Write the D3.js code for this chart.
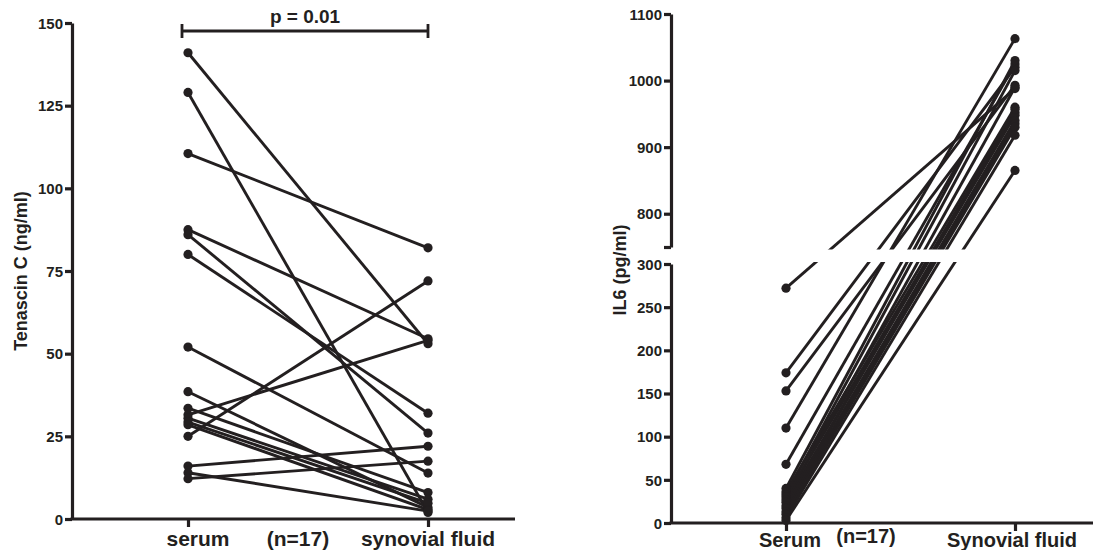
<!DOCTYPE html>
<html>
<head>
<meta charset="utf-8">
<script src="https://cdn.jsdelivr.net/npm/d3@7"></script>
<style>
  body { margin: 0; background: #fff; }
  svg text { font-family: "Liberation Sans", Arial, sans-serif; font-weight: bold; fill: #231f20; }
</style>
</head>
<body>
<svg id="chart" width="1093" height="550"></svg>
<script>
// tenascin C, paired serum / synovial fluid (n=17)
var tnGroups = ["serum", "synovial fluid"]
var tnSerum    = [141, 129, 110.5, 87.5, 86, 80, 52, 38.5, 33.5, 31.5, 30.5, 29.3, 28.5, 25, 16, 14, 12.2]
var tnSynovial = [53, 2, 82, 54.5, 26, 32, 13.9, 3.5, 8, 54, 6, 4.8, 2.8, 72, 22, 2.4, 17.5]
var tnTicks = [0, 25, 50, 75, 100, 125, 150]

// IL6, paired serum / synovial fluid (n=17)
var ilGroups = ["Serum", "Synovial fluid"]
var ilSerum    = [272, 174, 153, 110, 68, 40, 36, 33, 30, 27, 24, 20, 17, 13, 10, 6, 3]
var ilSynovial = [988, 1020, 993, 1063, 1025, 1030, 960, 1015, 952, 990, 948, 957, 940, 935, 930, 918, 865]
var ilTicksLow = [0, 50, 100, 150, 200, 250, 300]
var ilTicksHigh = [800, 900, 1000, 1100]

var ink = "#231f20"
var svg = d3.select("#chart")

// ---------- left panel ----------
var xL = d3.scalePoint().domain(tnGroups).range([188, 428])
var yL = d3.scaleLinear().domain([0, 150]).range([519, 23])

var left = svg.append("g")

var tnPairs = tnSerum.map((d, i) => [d, tnSynovial[i]])

left.append("g").selectAll("line")
  .data(tnPairs)
  .join("line")
    .attr("x1", xL(tnGroups[0]))
    .attr("x2", xL(tnGroups[1]))
    .attr("y1", d => yL(d[0]))
    .attr("y2", d => yL(d[1]))
    .attr("stroke", ink)
    .attr("stroke-width", 2.9)

left.append("g").selectAll("circle")
  .data(tnSerum.map(d => [tnGroups[0], d]).concat(tnSynovial.map(d => [tnGroups[1], d])))
  .join("circle")
    .attr("cx", d => xL(d[0]))
    .attr("cy", d => yL(d[1]))
    .attr("r", 4.6)
    .attr("fill", ink)

left.append("g")
  .attr("transform", "translate(72,0)")
  .call(d3.axisLeft(yL).tickValues(tnTicks).tickSize(7).tickSizeOuter(0).tickPadding(2))
  .call(g => g.selectAll("text").attr("font-size", 15).attr("dy", "0.35em"))

// x axis: long baseline with ticks under the two groups
left.append("line")
  .attr("x1", 70.5).attr("x2", 515)
  .attr("y1", yL(0)).attr("y2", yL(0))
  .attr("stroke", ink).attr("stroke-width", 3.2)

left.append("g")
  .attr("transform", `translate(0,${yL(0)})`)
  .call(d3.axisBottom(xL).tickSize(8).tickSizeOuter(0).tickFormat(""))
  .call(g => g.select(".domain").remove())

left.selectAll(".tick line").attr("stroke", ink).attr("stroke-width", 3.2)
left.selectAll(".domain").attr("stroke", ink).attr("stroke-width", 3.2)

left.append("text").attr("x", 198).attr("y", 546).attr("text-anchor", "middle").attr("font-size", 21).text("serum")
left.append("text").attr("x", 298).attr("y", 546).attr("text-anchor", "middle").attr("font-size", 21).text("(n=17)")
left.append("text").attr("x", 428).attr("y", 546).attr("text-anchor", "middle").attr("font-size", 21).text("synovial fluid")

left.append("text")
  .attr("transform", "translate(27,271) rotate(-90)")
  .attr("text-anchor", "middle")
  .attr("font-size", 18)
  .text("Tenascin C (ng/ml)")

// significance bracket
var bx0 = 182, bx1 = xL(tnGroups[1])
left.append("path")
  .attr("d", `M${bx0},24V38M${bx0},31H${bx1}M${bx1},24V38`)
  .attr("fill", "none").attr("stroke", ink).attr("stroke-width", 2.8)
left.append("text").attr("x", 305).attr("y", 23).attr("text-anchor", "middle").attr("font-size", 19).text("p = 0.01")

// ---------- right panel (broken y axis) ----------
var xR = d3.scalePoint().domain(ilGroups).range([786, 1015])
var yLow = d3.scaleLinear().domain([0, 300]).range([523, 264])
var yHigh = d3.scaleLinear().domain([750, 1100]).range([247, 14])
function yR(v) { return v <= 300 ? yLow(v) : yHigh(v) }

var right = svg.append("g")

right.append("g").selectAll("line")
  .data(ilSerum.map((d, i) => [d, ilSynovial[i]]))
  .join("line")
    .attr("x1", xR(ilGroups[0]))
    .attr("x2", xR(ilGroups[1]))
    .attr("y1", d => yR(d[0]))
    .attr("y2", d => yR(d[1]))
    .attr("stroke", ink)
    .attr("stroke-width", 2.9)

// white band where the axis is broken
right.append("rect")
  .attr("x", 676).attr("y", 249.5)
  .attr("width", 417).attr("height", 12.5)
  .attr("fill", "#fff")

right.append("g").selectAll("circle")
  .data(ilSerum.map(d => [ilGroups[0], d]).concat(ilSynovial.map(d => [ilGroups[1], d])))
  .join("circle")
    .attr("cx", d => xR(d[0]))
    .attr("cy", d => yR(d[1]))
    .attr("r", 4.6)
    .attr("fill", ink)

right.append("g")
  .attr("transform", "translate(671,0)")
  .call(d3.axisLeft(yHigh).tickValues(ilTicksHigh.concat([750])).tickSize(7).tickSizeOuter(0).tickPadding(2)
    .tickFormat(d => d === 750 ? "" : d))
  .call(g => g.selectAll("text").attr("font-size", 15).attr("dy", "0.35em"))

right.append("g")
  .attr("transform", "translate(671,0)")
  .call(d3.axisLeft(yLow).tickValues(ilTicksLow).tickSize(7).tickSizeOuter(0).tickPadding(2))
  .call(g => g.selectAll("text").attr("font-size", 15).attr("dy", "0.35em"))

right.append("line")
  .attr("x1", 669.5).attr("x2", 1093)
  .attr("y1", yLow(0)).attr("y2", yLow(0))
  .attr("stroke", ink).attr("stroke-width", 3.2)

right.append("g")
  .attr("transform", `translate(0,${yLow(0)})`)
  .call(d3.axisBottom(xR).tickSize(8).tickSizeOuter(0).tickFormat(""))
  .call(g => g.select(".domain").remove())

right.selectAll(".tick line").attr("stroke", ink).attr("stroke-width", 3.2)
right.selectAll(".domain").attr("stroke", ink).attr("stroke-width", 3.2)

right.append("text").attr("x", 790).attr("y", 547).attr("text-anchor", "middle").attr("font-size", 20).text("Serum")
right.append("text").attr("x", 866).attr("y", 543).attr("text-anchor", "middle").attr("font-size", 20).text("(n=17)")
right.append("text").attr("x", 1012).attr("y", 547).attr("text-anchor", "middle").attr("font-size", 20).text("Synovial fluid")

right.append("text")
  .attr("transform", "translate(626,270) rotate(-90)")
  .attr("text-anchor", "middle")
  .attr("font-size", 18)
  .text("IL6 (pg/ml)")
</script>
</body>
</html>
